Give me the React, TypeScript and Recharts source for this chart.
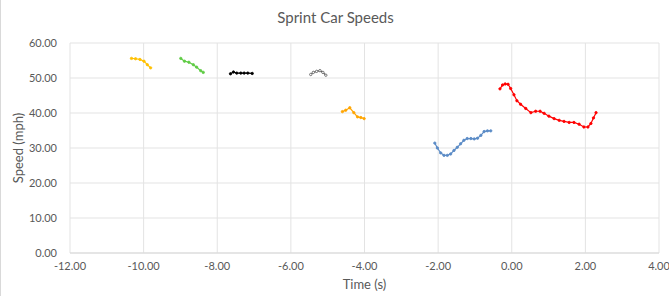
import React from 'react';
import { LineChart, Line, XAxis, YAxis, CartesianGrid } from 'recharts';

// Each run: time (s) and speed (mph)
const yellowTime = [-10.33, -10.22, -10.1, -9.99, -9.9, -9.81];
const yellowSpeed = [55.6, 55.5, 55.3, 54.8, 53.8, 52.9];

const greenTime = [-8.99, -8.89, -8.77, -8.65, -8.56, -8.45, -8.38];
const greenSpeed = [55.6, 54.8, 54.5, 53.8, 53.1, 52.1, 51.6];

const blackTime = [-7.64, -7.56, -7.47, -7.36, -7.27, -7.17, -7.05];
const blackSpeed = [51.2, 51.7, 51.4, 51.4, 51.4, 51.4, 51.3];

const grayTime = [-5.46, -5.39, -5.3, -5.21, -5.13, -5.05];
const graySpeed = [51.0, 51.6, 51.9, 52.1, 51.6, 50.8];

const orangeTime = [-4.6, -4.51, -4.4, -4.29, -4.19, -4.1, -4.01];
const orangeSpeed = [40.4, 40.8, 41.5, 40.1, 38.9, 38.7, 38.4];

const blueTime = [-2.09, -2.02, -1.93, -1.84, -1.75, -1.66, -1.57, -1.48, -1.39, -1.3, -1.21, -1.11, -1.02, -0.93, -0.84, -0.75, -0.66, -0.57];
const blueSpeed = [31.4, 30.0, 28.6, 27.9, 27.9, 28.3, 29.3, 30.2, 31.2, 32.2, 32.7, 32.7, 32.6, 32.8, 33.6, 34.7, 34.9, 34.9];

const redTime = [-0.32, -0.25, -0.18, -0.1, -0.03, 0.06, 0.14, 0.24, 0.38, 0.52, 0.65, 0.77, 0.88, 1.01, 1.15, 1.29, 1.42, 1.56, 1.69, 1.83, 1.96, 2.07, 2.15, 2.22, 2.29];
const redSpeed = [46.9, 48.0, 48.3, 48.2, 47.0, 45.2, 43.5, 42.5, 41.3, 40.1, 40.5, 40.5, 39.9, 39.1, 38.4, 37.9, 37.6, 37.3, 37.3, 36.8, 36.0, 36.0, 37.0, 38.6, 40.1];

const xTicks = [-12, -10, -8, -6, -4, -2, 0, 2, 4];
const yTicks = [0, 10, 20, 30, 40, 50, 60];

const zip = (t: number[], s: number[]) => t.map((time, i) => ({ time, speed: s[i] }));

const series = [
  { name: 'run1', data: zip(yellowTime, yellowSpeed), color: '#FFC000', fill: '#FFC000' },
  { name: 'run2', data: zip(greenTime, greenSpeed), color: '#5FCB45', fill: '#5FCB45' },
  { name: 'run3', data: zip(blackTime, blackSpeed), color: '#000000', fill: '#000000' },
  { name: 'run4', data: zip(grayTime, graySpeed), color: '#595959', fill: '#ffffff' },
  { name: 'run5', data: zip(orangeTime, orangeSpeed), color: '#FFA500', fill: '#FFA500' },
  { name: 'run6', data: zip(blueTime, blueSpeed), color: '#5B8BC6', fill: '#5B8BC6' },
  { name: 'run7', data: zip(redTime, redSpeed), color: '#FF0000', fill: '#FF0000' },
];

const font = 'Lato, "Open Sans", sans-serif';
const textColor = '#595959';

export default function App() {
  return (
    <div
      style={{
        position: 'absolute',
        left: 0,
        top: 0,
        width: 669,
        height: 296,
        background: '#fff',
        fontFamily: font,
        boxSizing: 'border-box',
        borderLeft: '1px solid #d9d9d9',
      }}
    >
      <div
        style={{
          position: 'absolute',
          left: 0,
          width: 669,
          top: 8,
          textAlign: 'center',
          fontSize: 15,
          color: textColor,
        }}
      >
        Sprint Car Speeds
      </div>
      <LineChart
        width={669}
        height={296}
        margin={{ top: 43, right: 11, left: 9, bottom: 13 }}
        style={{ position: 'absolute', left: 0, top: 0 }}
      >
        <CartesianGrid stroke="#e3e3e3" vertical horizontal />
        <XAxis
          type="number"
          dataKey="time"
          domain={[-12, 4]}
          ticks={xTicks}
          allowDuplicatedCategory={false}
          tickFormatter={(v: number) => v.toFixed(2)}
          tick={{ fontSize: 11, fill: textColor, fontFamily: font }}
          tickLine={false}
          tickMargin={3}
          axisLine={{ stroke: '#d9d9d9' }}
          height={30}
          label={{ value: 'Time (s)', position: 'insideBottom', offset: -6, fontSize: 13, fill: textColor, fontFamily: font }}
        />
        <YAxis
          type="number"
          domain={[0, 60]}
          ticks={yTicks}
          tickFormatter={(v: number) => v.toFixed(2)}
          tick={{ fontSize: 11, fill: textColor, fontFamily: font }}
          tickLine={false}
          axisLine={false}
          tickMargin={7}
          width={60}
          label={{ value: 'Speed (mph)', angle: -90, position: 'insideLeft', offset: 8, fontSize: 13, fill: textColor, fontFamily: font, style: { textAnchor: 'middle' } }}
        />
        {series.map((s) => (
          <Line
            key={s.name}
            data={s.data}
            dataKey="speed"
            type="linear"
            stroke={s.color}
            strokeWidth={1.2}
            dot={{ r: 1.2, fill: s.fill, stroke: s.color, strokeWidth: 0.8 }}
            activeDot={false}
            isAnimationActive={false}
          />
        ))}
      </LineChart>
    </div>
  );
}
